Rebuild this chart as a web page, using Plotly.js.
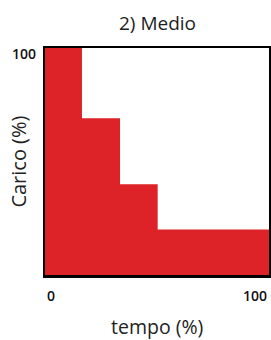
<!DOCTYPE html>
<html><head><meta charset="utf-8">
<script src="https://cdn.plot.ly/plotly-3.0.1.min.js"></script>
<style>html,body{margin:0;padding:0;background:#fff;}#chart{width:271px;height:340px;}</style>
</head><body><div id="chart"></div>
<script>
const tempo = [0, 16.5, 33.5, 50.3, 100];
const carico = [100, 69, 40, 20, 20];
const xTickVals = [0, 100];
const xTickLabels = ['0', '100'];
const yTickVals = [100];
const yTickLabels = ['100'];
const titleText = '2) Medio';
const xTitle = 'tempo (%)';
const yTitle = 'Carico (%)';

const font = '"Open Sans", "Noto Sans", sans-serif';
const tickFont = {family: font, size: 14, color: '#111', weight: 600};
const annotations = [];
xTickVals.forEach((v, i) => annotations.push({
  x: v, y: 0, xref: 'x', yref: 'y', text: xTickLabels[i], showarrow: false,
  xanchor: i === 0 ? 'left' : 'right', yanchor: 'middle', yshift: -20,
  font: tickFont
}));
yTickVals.forEach((v, i) => annotations.push({
  x: 0, y: v, xref: 'x', yref: 'y', text: yTickLabels[i], showarrow: false,
  xanchor: 'right', yanchor: 'middle', xshift: -7, yshift: -5,
  font: tickFont
}));
annotations.push({x: 0.5, y: 1.108, xref: 'paper', yref: 'paper', text: titleText, showarrow: false,
  xanchor: 'center', yanchor: 'middle', font: {family: font, size: 19, color: '#222'}});
annotations.push({x: 0.5, y: -0.227, xref: 'paper', yref: 'paper', text: xTitle, showarrow: false,
  xanchor: 'center', yanchor: 'middle', font: {family: font, size: 19.5, color: '#222'}});
annotations.push({x: -0.12, y: 0.5, xref: 'paper', yref: 'paper', text: yTitle, showarrow: false,
  textangle: -90, xanchor: 'center', yanchor: 'middle', font: {family: font, size: 20, color: '#222'}});

Plotly.newPlot('chart', [{
  x: tempo, y: carico, type: 'scatter', mode: 'lines',
  line: {shape: 'hv', width: 0, color: '#dd2327'},
  fill: 'tozeroy', fillcolor: '#dd2327', hoverinfo: 'skip'
}], {
  width: 271, height: 340,
  margin: {l: 45, r: 2, t: 48, b: 65},
  paper_bgcolor: '#fff', plot_bgcolor: '#fff',
  showlegend: false,
  xaxis: {range: [0, 100], showticklabels: false, ticks: '', showgrid: false, zeroline: false,
    showline: true, mirror: true, linecolor: '#000', linewidth: 2.5},
  yaxis: {range: [0, 100], showticklabels: false, ticks: '', showgrid: false, zeroline: false,
    showline: true, mirror: true, linecolor: '#000', linewidth: 2.5},
  annotations: annotations
}, {staticPlot: true, displayModeBar: false});
</script></body></html>
